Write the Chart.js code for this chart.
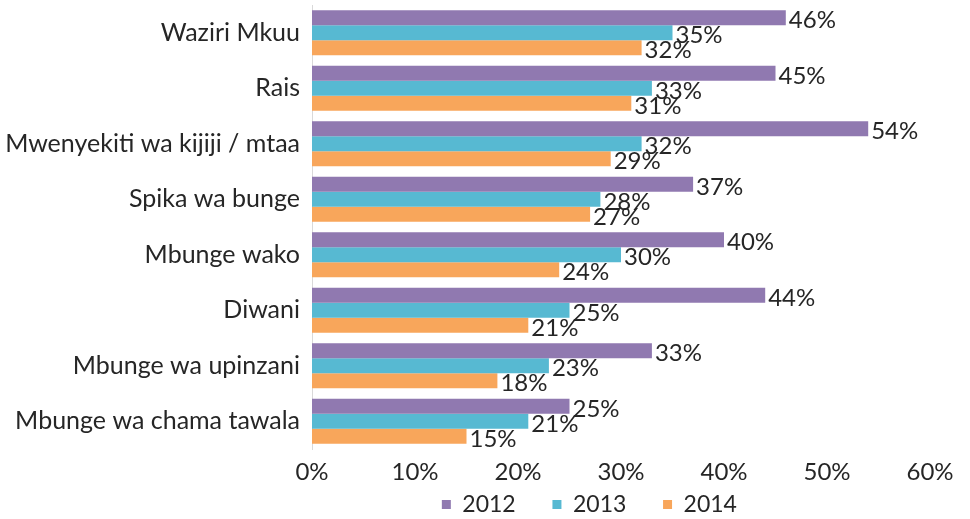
<!DOCTYPE html>
<html>
<head>
<meta charset="utf-8">
<script src="https://cdn.jsdelivr.net/npm/chart.js@4.4.1/dist/chart.umd.min.js"></script>
<style>
  html, body { margin: 0; padding: 0; background: #ffffff; }
  #wrap { width: 970px; height: 519px; position: relative; }
</style>
</head>
<body>
<div id="wrap"><canvas id="c" width="970" height="519"></canvas></div>
<script>
const categories = [
  "Waziri Mkuu",
  "Rais",
  "Mwenyekiti wa kijiji / mtaa",
  "Spika wa bunge",
  "Mbunge wako",
  "Diwani",
  "Mbunge wa upinzani",
  "Mbunge wa chama tawala"
];
const seriesNames = ["2012", "2013", "2014"];
const values2012 = [46, 45, 54, 37, 40, 44, 33, 25];
const values2013 = [35, 33, 32, 28, 30, 25, 23, 21];
const values2014 = [32, 31, 29, 27, 24, 21, 18, 15];
const xTicks = [0, 10, 20, 30, 40, 50, 60];

const colors = ["#9079B0", "#57B9D2", "#F8A65B"];
const FONT = "Lato";
const TEXT = "#262626";

const valueLabels = {
  id: "valueLabels",
  afterDatasetsDraw(chart) {
    const ctx = chart.ctx;
    ctx.save();
    ctx.font = "24px " + FONT;
    ctx.fillStyle = TEXT;
    ctx.textAlign = "left";
    ctx.textBaseline = "middle";
    chart.data.datasets.forEach((ds, i) => {
      const meta = chart.getDatasetMeta(i);
      meta.data.forEach((bar, j) => {
        ctx.fillText(ds.data[j] + "%", bar.x + 3, bar.y + 3);
      });
    });
    ctx.restore();
  }
};

const GAP = "\u2003\u2002";
const TAIL = "\u2003\u2003\u2003\u2002";

new Chart(document.getElementById("c"), {
  type: "bar",
  data: {
    labels: categories,
    datasets: [
      { label: seriesNames[0], data: values2012, backgroundColor: colors[0] },
      { label: seriesNames[1], data: values2013, backgroundColor: colors[1] },
      { label: seriesNames[2], data: values2014, backgroundColor: colors[2] }
    ]
  },
  options: {
    indexAxis: "y",
    responsive: false,
    animation: false,
    devicePixelRatio: 1,
    layout: { padding: { left: 0, right: 40, top: 5, bottom: 0 } },
    datasets: { bar: { categoryPercentage: 0.81, barPercentage: 1.0, borderWidth: 0 } },
    scales: {
      x: {
        min: 0, max: 60,
        afterBuildTicks(scale) { scale.ticks = xTicks.map(v => ({ value: v })); },
        afterFit(scale) { scale.height = 36; },
        grid: { display: false, drawTicks: false },
        border: { display: false },
        ticks: {
          padding: 9,
          color: TEXT,
          font: { family: FONT, size: 24 },
          callback: v => v + "%"
        }
      },
      y: {
        grid: { display: false, drawTicks: false },
        border: { display: true, color: "#D9D9D9", width: 1 },
        afterFit(scale) { scale.width = 312; scale.paddingTop = 0; scale.paddingBottom = 0; },
        ticks: {
          padding: 12,
          color: TEXT,
          font: { family: FONT, size: 25 }
        }
      }
    },
    plugins: {
      legend: {
        position: "bottom",
        fullSize: false,
        maxHeight: 34,
        labels: {
          color: TEXT,
          font: { family: FONT, size: 23 },
          boxWidth: 9,
          boxHeight: 9,
          padding: 8,
          generateLabels(chart) {
            return chart.data.datasets.map((ds, i) => ({
              text: ds.label + (i < chart.data.datasets.length - 1 ? GAP : TAIL),
              fillStyle: ds.backgroundColor,
              strokeStyle: ds.backgroundColor,
              lineWidth: 0,
              hidden: false,
              datasetIndex: i,
              fontColor: TEXT
            }));
          }
        }
      },
      tooltip: { enabled: false }
    }
  },
  plugins: [valueLabels]
});
</script>
</body>
</html>
